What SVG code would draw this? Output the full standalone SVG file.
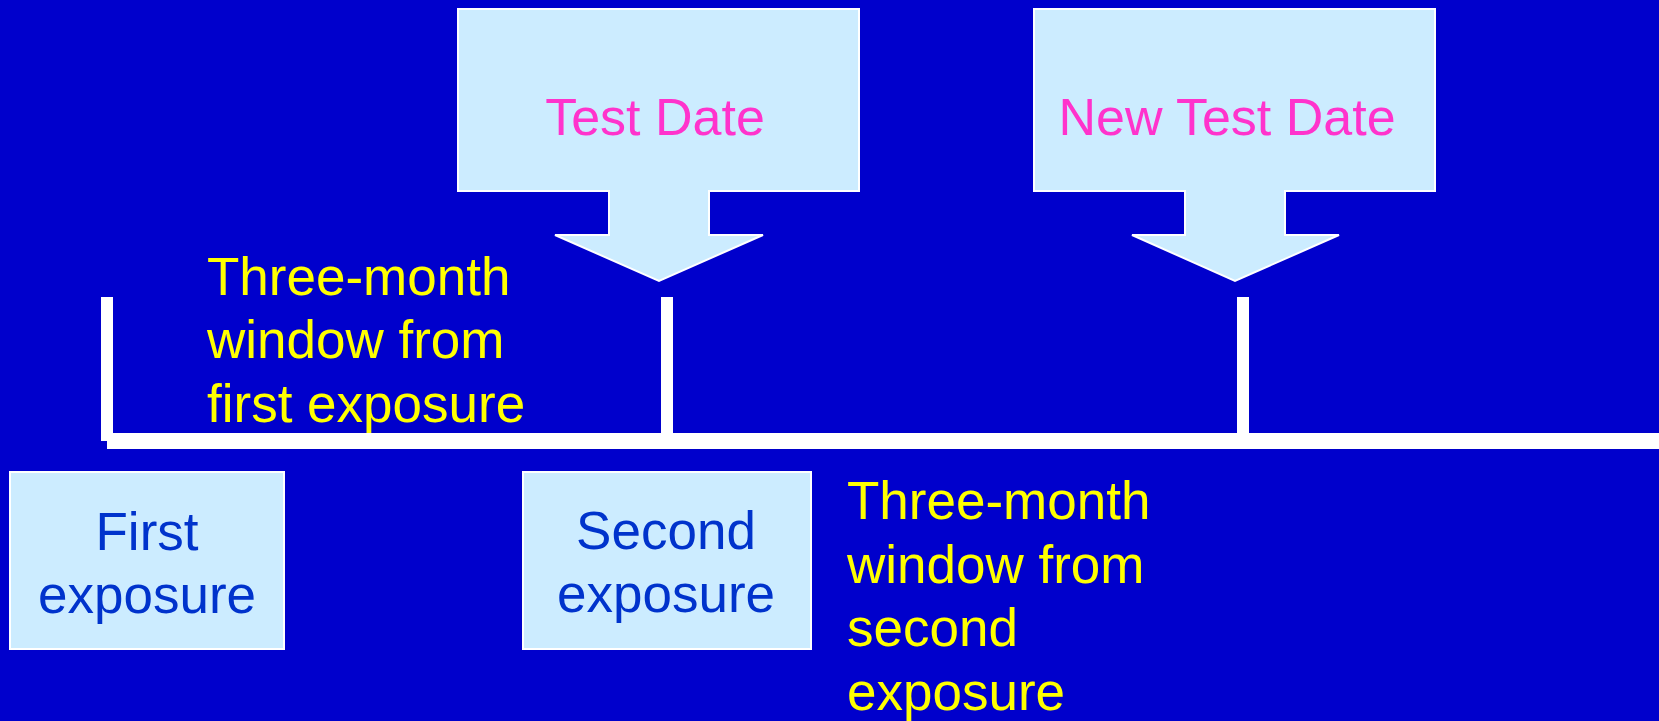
<svg xmlns="http://www.w3.org/2000/svg" width="1659" height="721" viewBox="0 0 1659 721">
<style>
.box{fill:#CCECFF;stroke:#FFFFFF;stroke-width:2}
.bar{fill:#FFFFFF}
text{font-family:"Liberation Sans",Arial,sans-serif;font-size:53px}
.pink{fill:#FF33CC;font-size:52px}
.navy{fill:#0033CC;text-anchor:middle}
.yel{fill:#FFFF00}
</style>
<rect x="0" y="0" width="1659" height="721" fill="#0000CC"/>
<g id="connectors">
<rect class="bar" x="101" y="297" width="12" height="144"/>
<rect class="bar" x="107" y="433" width="1552" height="16"/>
<rect class="bar" x="661" y="297" width="12" height="138"/>
<rect class="bar" x="1237" y="297" width="12" height="138"/>
</g>
<g id="test-date">
<path class="box" d="M458,9 H859 V191 H709 V235 H763 L659,281 L555,235 H609 V191 H458 Z"/>
<text class="pink" x="655" y="135" text-anchor="middle">Test Date</text>
</g>
<g id="new-test-date">
<path class="box" d="M1034,9 H1435 V191 H1285 V235 H1339 L1235,281 L1132,235 H1185 V191 H1034 Z"/>
<text class="pink" x="1227" y="135" text-anchor="middle">New Test Date</text>
</g>
<g id="window-first">
<text class="yel" x="207"><tspan x="207" y="295">Three-month</tspan><tspan x="207" y="358">window from</tspan><tspan x="207" y="422">first exposure</tspan></text>
</g>
<g id="first-exposure">
<rect class="box" x="10" y="472" width="274" height="177"/>
<text class="navy"><tspan x="147" y="550">First</tspan><tspan x="147" y="613">exposure</tspan></text>
</g>
<g id="second-exposure">
<rect class="box" x="523" y="472" width="288" height="177"/>
<text class="navy"><tspan x="666" y="549">Second</tspan><tspan x="666" y="612">exposure</tspan></text>
</g>
<g id="window-second">
<text class="yel"><tspan x="847" y="519">Three-month</tspan><tspan x="847" y="583">window from</tspan><tspan x="847" y="646">second</tspan><tspan x="847" y="710">exposure</tspan></text>
</g>
</svg>
